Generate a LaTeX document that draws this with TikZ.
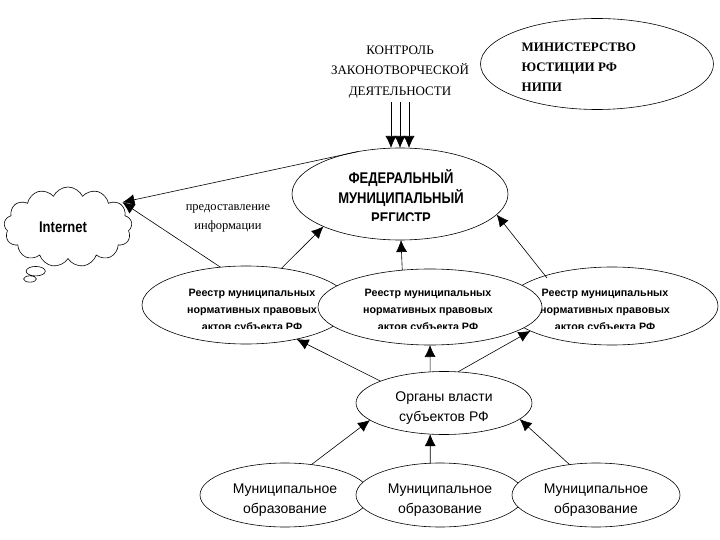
\documentclass[tikz,border=0pt]{standalone}
\usepackage{fontspec}
\setmainfont{Liberation Serif}
\setsansfont{Liberation Sans}
\newfontfamily\narrowsans[FakeStretch=0.84]{Liberation Sans}
\newcommand{\topgap}{\rule{0pt}{19pt}}
\usetikzlibrary{arrows.meta,shapes.geometric,shapes.callouts}
\tikzset{
	oval/.style={ellipse, draw, fill=white, inner sep=0pt, outer sep=0pt},
	link/.style={-{Latex[length=12pt,width=11pt]}},
	thin text/.style={align=center, font=\fontsize{13}{20.5}\selectfont},
	reg text/.style={align=center, font=\sffamily\bfseries\fontsize{10.7}{17}\selectfont},
	mun text/.style={align=center, font=\sffamily\fontsize{14}{20}\selectfont}
}
\begin{document}
\begin{tikzpicture}[x=1pt,y=-1pt,line width=0.6pt]
	\useasboundingbox (0,0) rectangle (720,540);
	% top texts
	\node (ctrl) at (400,72) [thin text] {КОНТРОЛЬ\\ЗАКОНОТВОРЧЕСКОЙ\\ДЕЯТЕЛЬНОСТИ};
	\node (min) at (597,64) [oval, minimum width=233pt, minimum height=91pt] {};
	\begin{scope}
		\clip (480,30) rectangle (713,91);
		\node (minText) at (518,67) [anchor=west, align=left, font=\bfseries\fontsize{13}{20}\selectfont] {МИНИСТЕРСТВО\\ЮСТИЦИИ РФ\\НИПИ};
	\end{scope}
	% federal register
	\node (fed) at (400,194) [oval, minimum width=216pt, minimum height=92pt] {};
	\begin{scope}
		\clip (293,150) rectangle (508,220.5);
		\node (fedText) at (401,197) [align=center, font=\narrowsans\bfseries\fontsize{15.5}{20}\selectfont] {ФЕДЕРАЛЬНЫЙ\\МУНИЦИПАЛЬНЫЙ\\РЕГИСТР};
	\end{scope}
	% internet
	\node (net) at (68,227) [cloud callout, draw, cloud puffs=13, cloud puff arc=130, aspect=1.7, minimum width=128pt, minimum height=80pt, inner sep=0pt, outer sep=0pt, callout absolute pointer={(30,279)}, font=\narrowsans\bfseries\fontsize{15.5}{16}\selectfont] {Internet\kern10pt};
	\node (give) at (228,218) [thin text, font=\fontsize{12.5}{19}\selectfont] {предоставление\\информации};
	% regional registers
	\node (regL) at (246,305) [oval, minimum width=208pt, minimum height=78pt] {};
	\begin{scope}
		\clip (142,270) rectangle (350,328);
		\node (regLText) at (252,311) [reg text] {Реестр муниципальных\\нормативных правовых\\актов субъекта РФ};
	\end{scope}
	\node (regR) at (612,306) [oval, minimum width=212pt, minimum height=78pt] {};
	\begin{scope}
		\clip (506,270) rectangle (718,328);
		\node (regRText) at (605,311) [reg text] {Реестр муниципальных\\нормативных правовых\\актов субъекта РФ};
	\end{scope}
	\node (regM) at (430,307) [oval, minimum width=224pt, minimum height=76pt] {};
	\begin{scope}
		\clip (318,270) rectangle (542,328);
		\node (regMText) at (428,311) [reg text] {Реестр муниципальных\\нормативных правовых\\актов субъекта РФ};
	\end{scope}
	% lower level
	\node (org) at (444,403) [oval, minimum width=176pt, minimum height=63pt, mun text] {\topgap Органы власти\\субъектов РФ};
	\node (munL) at (285,495) [oval, minimum width=170pt, minimum height=64pt, mun text] {\topgap Муниципальное\\образование};
	\node (munM) at (440,495) [oval, minimum width=168pt, minimum height=64pt, mun text] {\topgap Муниципальное\\образование};
	\node (munR) at (596,495) [oval, minimum width=168pt, minimum height=64pt, mun text] {\topgap Муниципальное\\образование};
	\coordinate (regRIn) at (547,278);
	% connectors
	\draw[link] ([xshift=-9pt]ctrl.south) -- ([xshift=-9pt]fed.north);
	\draw[link] (ctrl.south) -- (fed.north);
	\draw[link] ([xshift=9pt]ctrl.south) -- ([xshift=9pt]fed.north);
	\draw[link] (fed.135) -- ([xshift=6pt]net.27);
	\draw[link] (regL.124) -- ([xshift=6pt]net.27);
	\draw[link] (regL.46) -- (fed.203);
	\draw[link] (regM.127) -- ([xshift=1pt]fed.south);
	\draw[link] (regRIn) -- (fed.-12);
	\draw[link] (org.161) -- (regL.-34);
	\draw[link] (org.114) -- (regM.south);
	\draw[link] (org.66) -- (regR.197);
	\draw[link] (munL.49) -- (org.193);
	\draw[link] (munM.107) -- (org.246);
	\draw[link] (munR.131) -- (org.-12);
\end{tikzpicture}
\end{document}
